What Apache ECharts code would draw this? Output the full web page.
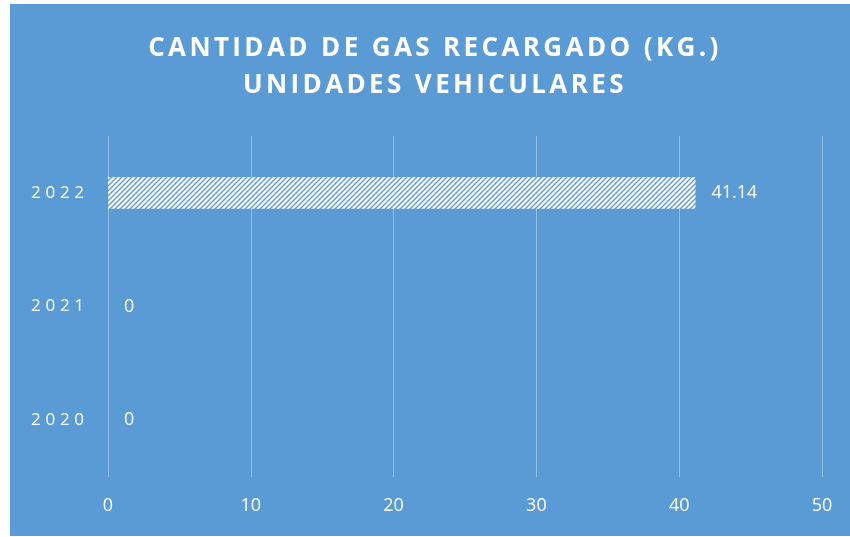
<!DOCTYPE html>
<html>
<head>
<meta charset="utf-8">
<script src="https://cdn.jsdelivr.net/npm/echarts@6/dist/echarts.min.js"></script>
<style>
    body { margin: 0; background: #ffffff; }
    #myChart { position: absolute; left: 10px; top: 4px; width: 840px; height: 532px; background: #5b9bd5; }
</style>
</head>
<body>
<div id="myChart"></div>
<script>
    var years = ['2020', '2021', '2022'];
    var gasKg = [0, 0, 41.14];
    var xTicks = [0, 10, 20, 30, 40, 50];
    var titleLines = ['CANTIDAD DE GAS RECARGADO (KG.)', 'UNIDADES VEHICULARES'];

    // diagonal hatch used by Excel's "wide upward diagonal" pattern
    function hatch() {
        var c = document.createElement('canvas');
        c.width = 5; c.height = 5;
        var ctx = c.getContext('2d');
        ctx.fillStyle = '#ffffff';
        ctx.fillRect(0, 0, 5, 5);
        ctx.strokeStyle = '#5b9bd5';
        ctx.lineWidth = 1.4;
        ctx.beginPath();
        ctx.moveTo(-1, 6); ctx.lineTo(6, -1);
        ctx.moveTo(-1, 1); ctx.lineTo(1, -1);
        ctx.moveTo(4, 6); ctx.lineTo(6, 4);
        ctx.stroke();
        return c;
    }

    // letter spacing: every char followed by a small space
    function spaced(line, a, b) {
        return line.split('').map(function (ch) {
            return '{' + a + '|' + ch + '}{' + b + '| }';
        }).join('');
    }

    var myChart = echarts.init(document.getElementById('myChart'));
    myChart.setOption({
        animation: false,
        title: {
            // leading pad nudges the centred title a little to the right
            text: titleLines.map(function (l) { return '{p| }' + spaced(l, 't', 'g'); }).join('\n'),
            left: 'center',
            top: 21,
            textStyle: {
                color: '#ffffff',
                fontFamily: 'Open Sans',
                fontWeight: 'bold',
                fontSize: 26,
                lineHeight: 37,
                rich: {
                    t: { color: '#ffffff', fontFamily: 'Open Sans', fontWeight: 'bold', fontSize: 26, lineHeight: 37 },
                    g: { fontFamily: 'Open Sans', fontSize: 13, lineHeight: 37 },
                    p: { fontFamily: 'Open Sans', fontSize: 38, lineHeight: 37 }
                }
            }
        },
        grid: { left: 98, right: 28, top: 132, bottom: 59 },
        xAxis: {
            type: 'value',
            min: 0,
            max: 50,
            interval: 10,
            axisLine: { show: false },
            axisTick: { show: false },
            splitLine: { lineStyle: { color: 'rgba(255,255,255,0.35)', width: 1 } },
            axisLabel: {
                color: '#ffffff',
                fontFamily: 'Open Sans',
                fontSize: 18,
                margin: 20,
                formatter: function (v) { return xTicks.indexOf(v) >= 0 ? String(v) : ''; }
            }
        },
        yAxis: {
            type: 'category',
            data: years,
            axisLine: { show: false },
            axisTick: { show: false },
            axisLabel: {
                color: '#ffffff',
                fontFamily: 'Open Sans',
                fontSize: 17,
                margin: 24,
                formatter: function (v) { return spaced(v, 'd', 's').replace(/\{s\| \}$/, ''); },
                rich: {
                    d: { color: '#ffffff', fontFamily: 'Open Sans', fontSize: 17 },
                    s: { fontFamily: 'Open Sans', fontSize: 18 }
                }
            }
        },
        series: [{
            type: 'bar',
            data: gasKg,
            barWidth: '28%',
            itemStyle: { color: { image: hatch(), repeat: 'repeat' } },
            label: {
                show: true,
                position: 'right',
                distance: 16,
                color: '#ffffff',
                fontFamily: 'Open Sans',
                fontSize: 18
            }
        }]
    });
</script>
</body>
</html>
